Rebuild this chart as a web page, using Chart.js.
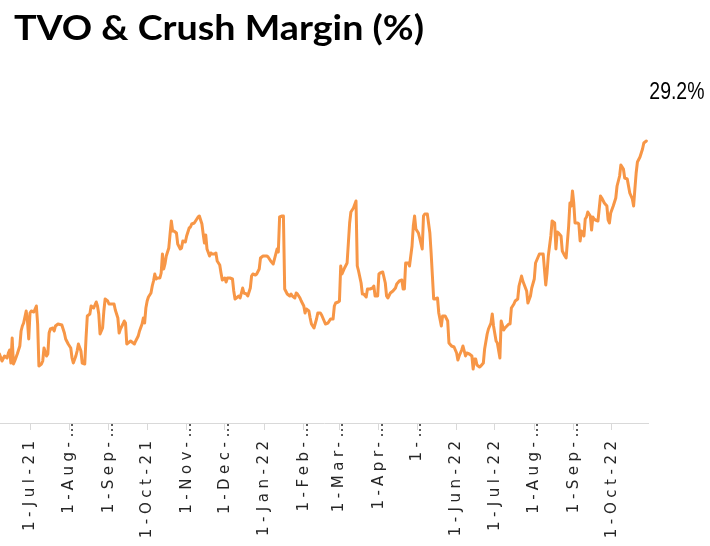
<!DOCTYPE html>
<html>
<head>
<meta charset="utf-8">
<script src="https://cdn.jsdelivr.net/npm/chart.js@4.4.1/dist/chart.umd.min.js"></script>
<style>
  html, body { margin: 0; padding: 0; background: #fff; }
  #wrap { position: relative; width: 710px; height: 546px; overflow: hidden; }
  #chart { position: absolute; left: 0; top: 0; }
  #title {
    position: absolute; left: 14px; top: 9px;
    font-family: Lato, "Open Sans", sans-serif; font-weight: 700;
    font-size: 35px; line-height: 35px; color: #000;
    white-space: nowrap; transform-origin: 0 0;
  }
</style>
</head>
<body>
<div id="wrap">
  <canvas id="chart" width="710" height="546"></canvas>
  <div id="title">TVO &amp; Crush Margin (%)</div>
</div>
<script>
// x values are days counted from 1 Jun 2021
const days = [
  6, 8, 10, 12, 13, 14, 15, 16, 17, 18,
  20, 22, 23, 24, 25, 27, 28, 29, 30, 31,
  33, 35, 36, 37, 39, 40, 41, 43, 44, 45,
  46, 48, 49, 50, 52, 55, 57, 58, 60, 62,
  63, 64, 66, 67, 68, 70, 71, 73, 74, 75,
  77, 78, 80, 82, 83, 84, 85, 87, 88, 89,
  91, 92, 94, 96, 97, 99, 100, 101, 103, 104,
  105, 106, 107, 109, 111, 112, 113, 115, 116, 118,
  119, 120, 121, 122, 123, 125, 126, 127, 128, 129,
  130, 132, 133, 134, 135, 136, 137, 139, 140, 141,
  142, 143, 145, 146, 148, 149, 150, 152, 153, 155,
  156, 157, 159, 161, 162, 163, 165, 166, 167, 168,
  169, 171, 172, 173, 175, 176, 177, 179, 180, 181,
  183, 184, 185, 187, 189, 190, 191, 192, 194, 195,
  197, 198, 200, 201, 203, 204, 205, 207, 208, 210,
  211, 213, 216, 217, 219, 221, 222, 223, 224, 225,
  226, 228, 229, 230, 232, 234, 235, 236, 238, 239,
  240, 242, 243, 245, 246, 247, 249, 250, 251, 253,
  255, 256, 258, 259, 261, 262, 264, 266, 268, 269,
  270, 272, 273, 274, 275, 277, 279, 281, 282, 284,
  286, 287, 288, 290, 291, 292, 294, 295, 297, 299,
  300, 301, 303, 304, 305, 307, 309, 310, 311, 313,
  315, 317, 318, 320, 322, 323, 324, 325, 327, 328,
  330, 331, 332, 333, 335, 336, 338, 339, 340, 342,
  344, 345, 346, 347, 348, 350, 351, 353, 354, 356,
  358, 359, 361, 363, 365, 366, 367, 369, 370, 372,
  373, 375, 377, 378, 379, 380, 381, 383, 384, 386,
  387, 389, 390, 392, 393, 394, 396, 397, 399, 400,
  402, 403, 406, 407, 408, 410, 411, 413, 414, 416,
  417, 420, 421, 423, 424, 426, 427, 428, 430, 432,
  433, 435, 436, 437, 439, 440, 442, 443, 444, 445,
  447, 448, 450, 451, 453, 454, 455, 456, 457, 458,
  460, 461, 462, 463, 465, 466, 467, 468, 470, 471,
  472, 473, 474, 476, 478, 479, 481, 483, 484, 485,
  486, 488, 490, 491, 493, 494, 496, 497, 499, 500,
  501, 503, 504, 505, 506, 507, 509, 510, 511, 512,
  513, 514
];

// TVO & crush margin, %
const margin = [
  7.9, 7.2, 7.7, 7.5, 8.0, 8.3, 7.0, 9.5, 6.9, 7.2,
  7.9, 8.7, 10.2, 10.7, 11.0, 12.2, 11.2, 9.4, 12.0, 12.2,
  12.1, 12.7, 10.9, 6.7, 6.9, 7.2, 8.5, 7.7, 7.9, 10.0,
  10.4, 10.5, 10.2, 10.7, 10.9, 10.8, 10.0, 9.4, 8.9, 8.5,
  7.5, 7.0, 7.7, 8.2, 8.9, 8.2, 7.0, 6.9, 9.5, 11.7,
  11.9, 12.7, 12.5, 13.1, 12.7, 11.9, 9.9, 10.5, 12.2, 13.4,
  13.2, 12.9, 12.9, 12.9, 12.3, 11.5, 10.0, 10.4, 10.9, 11.2,
  11.0, 8.9, 9.0, 9.2, 9.0, 8.9, 9.2, 9.7, 10.2, 10.9,
  11.5, 11.0, 12.5, 13.2, 13.6, 14.0, 14.7, 15.2, 15.9, 15.4,
  15.5, 15.5, 16.0, 17.9, 16.4, 16.9, 17.7, 18.5, 19.9, 21.2,
  20.2, 20.2, 20.0, 18.9, 18.4, 18.5, 19.2, 19.1, 19.7, 20.5,
  20.6, 20.9, 21.0, 21.4, 21.6, 21.7, 20.9, 19.9, 19.0, 19.8,
  18.4, 17.7, 18.0, 17.9, 17.9, 18.0, 17.2, 16.8, 16.0, 15.3,
  15.5, 15.1, 15.5, 15.5, 15.4, 14.2, 13.4, 13.5, 13.7, 13.5,
  14.5, 14.0, 13.9, 13.7, 14.5, 15.7, 15.9, 15.8, 15.9, 16.4,
  17.5, 17.7, 17.7, 17.6, 17.2, 16.9, 17.4, 17.9, 18.4, 18.1,
  21.6, 21.7, 21.7, 14.4, 13.9, 13.7, 13.9, 13.7, 13.5, 14.0,
  13.9, 13.5, 13.2, 12.7, 12.0, 12.4, 12.2, 11.5, 10.9, 10.5,
  11.4, 12.0, 12.0, 11.8, 11.2, 10.9, 11.0, 11.4, 11.4, 12.7,
  13.0, 13.1, 13.2, 16.7, 15.9, 16.5, 17.0, 21.0, 22.1, 22.5,
  23.2, 16.7, 16.2, 15.0, 13.9, 13.9, 13.6, 14.4, 14.4, 14.5,
  14.7, 13.7, 13.7, 15.9, 16.0, 16.1, 15.0, 13.7, 13.5, 14.0,
  14.2, 14.5, 14.9, 15.2, 15.3, 14.4, 14.4, 17.0, 17.0, 16.7,
  18.7, 20.7, 21.7, 20.4, 20.0, 19.5, 18.4, 21.7, 21.9, 21.9,
  20.0, 18.0, 15.7, 13.4, 13.4, 13.5, 12.0, 10.7, 11.7, 11.7,
  11.2, 9.0, 8.7, 8.6, 8.0, 7.3, 7.7, 8.3, 8.7, 7.7,
  8.0, 7.9, 7.7, 6.4, 7.4, 7.4, 6.8, 6.6, 6.7, 7.0,
  8.4, 9.9, 10.4, 11.0, 11.9, 10.7, 9.2, 9.0, 7.5, 11.2,
  10.3, 10.5, 10.9, 10.9, 12.5, 12.9, 13.2, 13.4, 14.7, 15.7,
  15.2, 14.2, 13.0, 13.7, 14.5, 15.4, 17.0, 17.3, 17.9, 17.9,
  17.9, 14.8, 16.0, 17.7, 19.7, 21.2, 21.0, 18.4, 20.1, 20.0,
  19.7, 18.2, 17.7, 17.5, 20.7, 23.0, 22.7, 24.2, 23.0, 21.0,
  21.0, 20.9, 19.2, 20.2, 19.7, 21.4, 21.6, 22.1, 21.7, 20.3,
  21.6, 21.4, 21.3, 21.2, 23.7, 23.5, 23.0, 22.7, 21.3, 21.0,
  22.0, 22.7, 23.5, 24.7, 25.7, 26.8, 26.4, 25.5, 25.4, 24.7,
  24.0, 23.4, 22.7, 24.4, 26.0, 27.1, 27.6, 28.0, 28.4, 29.0,
  29.1, 29.2
];

// month starts (days from 1 Jun 2021) and their axis text
const tickDays = [30, 61, 92, 122, 153, 183, 214, 245, 273, 304, 334, 365, 395, 426, 457, 487];
const tickLabels = [
  '1-Jul-21', '1-Aug-…', '1-Sep-…', '1-Oct-21', '1-Nov-…', '1-Dec-…',
  '1-Jan-22', '1-Feb-…', '1-Mar-…', '1-Apr-…', '1-…', '1-Jun-22',
  '1-Jul-22', '1-Aug-…', '1-Sep-…', '1-Oct-22'
];

const lineColor = '#F79646';
const axisGrey = '#d9d9d9';

// stretch the title to its box width
const title = document.getElementById('title');
const tw = title.getBoundingClientRect().width;
title.style.transform = 'scaleX(' + (410 / tw).toFixed(3) + ')';

// wide tick text + value tag at the last point
const endLabel = {
  id: 'endLabel',
  beforeDraw(chart) {
    chart.ctx.letterSpacing = '4.5px';
  },
  afterDatasetsDraw(chart) {
    const ctx = chart.ctx;
    const pts = chart.getDatasetMeta(0).data;
    const last = pts[pts.length - 1];
    ctx.save();
    ctx.letterSpacing = '0px';
    ctx.font = '24px "Liberation Sans", Arial, sans-serif';
    ctx.fillStyle = '#000';
    ctx.textAlign = 'left';
    ctx.textBaseline = 'alphabetic';
    // narrow face: squeeze horizontally
    ctx.translate(last.x + 3, last.y - 42);
    ctx.scale(0.81, 1);
    ctx.fillText(margin[margin.length - 1].toFixed(1) + '%', 0, 0);
    ctx.restore();
  },
  afterDraw(chart) {
    chart.ctx.letterSpacing = '0px';
  }
};

new Chart(document.getElementById('chart').getContext('2d'), {
  type: 'line',
  data: {
    datasets: [{
      data: days.map((d, i) => ({ x: d, y: margin[i] })),
      borderColor: lineColor,
      borderWidth: 3,
      pointRadius: 0,
      tension: 0,
      borderJoinStyle: 'round',
      borderCapStyle: 'round'
    }]
  },
  options: {
    responsive: false,
    animation: false,
    layout: { padding: { left: 0, right: 62, top: 33, bottom: 0 } },
    plugins: {
      legend: { display: false },
      title: { display: false },
      tooltip: { enabled: false }
    },
    scales: {
      x: {
        type: 'linear',
        min: 6.44,
        max: 515.3,
        afterBuildTicks: (scale) => {
          scale.ticks = tickDays.map((v) => ({ value: v }));
        },
        afterFit: (scale) => {
          scale.height = 123;
        },
        grid: {
          display: true,
          drawOnChartArea: false,
          drawTicks: true,
          tickLength: 7,
          color: axisGrey
        },
        border: { display: true, color: axisGrey, width: 1 },
        ticks: {
          autoSkip: false,
          maxRotation: 90,
          minRotation: 90,
          padding: -12,
          color: '#262626',
          font: { family: 'DejaVu Sans', size: 15 },
          callback: (value, index) => {
            const t = tickLabels[index];
            return t.endsWith('…') ? t : t + '  ';
          }
        }
      },
      y: {
        display: false,
        min: 1,
        max: 40
      }
    }
  },
  plugins: [endLabel]
});
</script>
</body>
</html>
